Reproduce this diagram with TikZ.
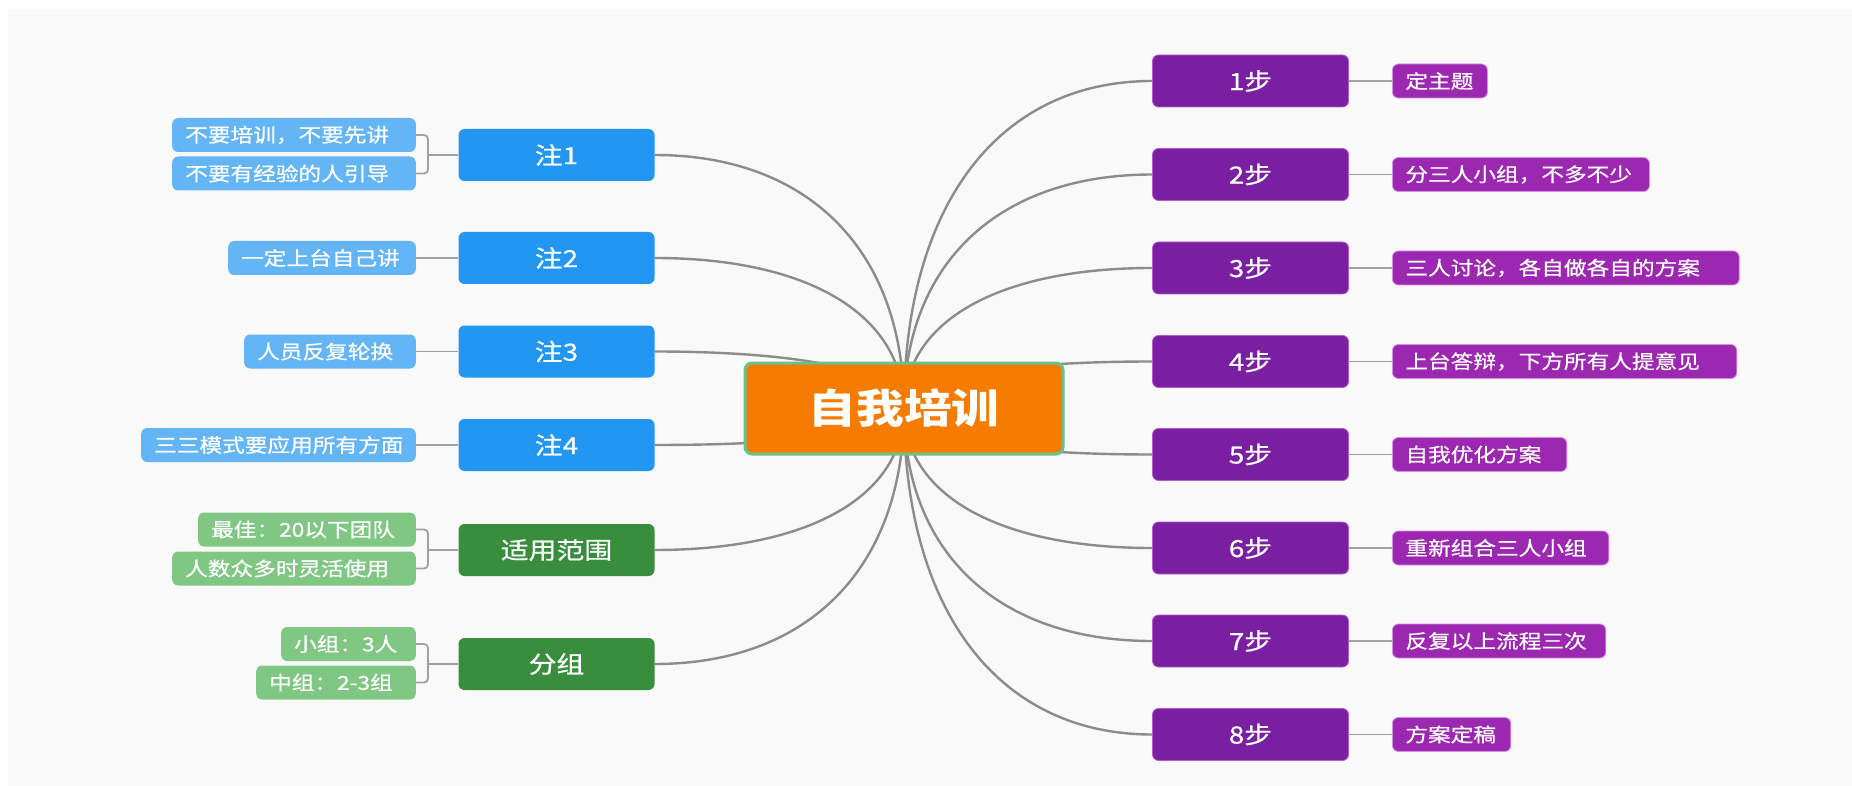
\documentclass[tikz,border=0pt]{standalone}
\usepackage{fontspec}
\setmainfont{Noto Sans CJK SC}[FakeStretch=1.18, UprightFeatures={FakeBold=0.6}]
\usetikzlibrary{calc}
\definecolor{bgc}{HTML}{F9F9F9}
\definecolor{blueM}{HTML}{2196F3}
\definecolor{blueL}{HTML}{64B5F6}
\definecolor{greenM}{HTML}{388E3C}
\definecolor{greenL}{HTML}{81C784}
\definecolor{purpM}{HTML}{7B1FA2}
\definecolor{purpL}{HTML}{9C27B0}
\definecolor{purpMB}{HTML}{B45BCB}
\definecolor{purpLB}{HTML}{D68FE6}
\definecolor{orangeC}{HTML}{F57C00}
\definecolor{greenB}{HTML}{6CC08B}
\definecolor{lineC}{HTML}{8C8C8C}
\definecolor{leafC}{HTML}{A0A0A0}
\pgfdeclarelayer{bglayer}
\pgfdeclarelayer{linelayer}
\pgfsetlayers{bglayer,linelayer,main}
\newcommand\lbx[2]{\makebox[#1pt][l]{#2}}
\tikzset{
  mainbox/.style={rectangle, rounded corners=6pt, text=white, minimum width=196pt, minimum height=52pt, inner sep=0pt, font=\fontsize{23.6}{28}\selectfont},
  leafbox/.style={rectangle, rounded corners=6pt, text=white, minimum height=34pt, inner xsep=13pt, inner ysep=0pt, font=\fontsize{19.2}{23}\selectfont},
  bluem/.style={mainbox, fill=blueM},
  greenm/.style={mainbox, fill=greenM},
  purpm/.style={mainbox, fill=purpM, draw=purpMB, line width=0.8pt},
  bluel/.style={leafbox, fill=blueL, anchor=east},
  greenl/.style={leafbox, fill=greenL, anchor=east},
  purpl/.style={leafbox, fill=purpL, draw=purpLB, line width=0.8pt, anchor=west},
  mainline/.style={draw=lineC, line width=2.4pt},
  leafline/.style={draw=leafC, line width=1.8pt},
}
\begin{document}
\begin{tikzpicture}[x=1pt,y=-1pt]
\useasboundingbox (0,0) rectangle (1852,786);
\begin{pgfonlayer}{bglayer}
\fill[white] (0,0) rectangle (1852,786);
\fill[bgc] (8,9) rectangle (1852,785);
\end{pgfonlayer}

% central
\node[rectangle, rounded corners=7pt, fill=orangeC, draw=greenB, line width=3pt,
      minimum width=318pt, minimum height=91pt, inner sep=0pt, text=white,
      font=\fontsize{40.4}{46}\selectfont\bfseries] (c) at (904,408.5) {自我培训};

% left main
\node[bluem]  (z1) at (556.5,155)   {注1};
\node[bluem]  (z2) at (556.5,258)   {注2};
\node[bluem]  (z3) at (556.5,351.5) {注3};
\node[bluem]  (z4) at (556.5,445)   {注4};
\node[greenm] (z5) at (556.5,550)   {适用范围};
\node[greenm] (z6) at (556.5,664)   {分组};

% left leaves
\node[bluel]  (l1a) at (416,135)   {\lbx{217.6}{不要培训，不要先讲}};
\node[bluel]  (l1b) at (416,173.5) {\lbx{217.6}{不要有经验的人引导}};
\node[bluel]  (l2)  at (416,258)   {\lbx{161.6}{一定上台自己讲}};
\node[bluel]  (l3)  at (416,351.5) {\lbx{145.6}{人员反复轮换}};
\node[bluel]  (l4)  at (416,445)   {\lbx{248.6}{三三模式要应用所有方面}};
\node[greenl] (l5a) at (416,529.5) {\lbx{191.6}{最佳：20以下团队}};
\node[greenl] (l5b) at (416,568.5) {\lbx{217.6}{人数众多时灵活使用}};
\node[greenl] (l6a) at (416,644)   {\lbx{108.6}{小组：3人}};
\node[greenl] (l6b) at (416,682.5) {\lbx{133.6}{中组：2-3组}};

% right main
\node[purpm] (s1) at (1250.5,81)    {1步};
\node[purpm] (s2) at (1250.5,174.5) {2步};
\node[purpm] (s3) at (1250.5,268)   {3步};
\node[purpm] (s4) at (1250.5,361.5) {4步};
\node[purpm] (s5) at (1250.5,454.5) {5步};
\node[purpm] (s6) at (1250.5,548)   {6步};
\node[purpm] (s7) at (1250.5,641)   {7步};
\node[purpm] (s8) at (1250.5,734.5) {8步};

% right leaves
\node[purpl] (r1) at (1392,81)    {\lbx{69}{定主题}};
\node[purpl] (r2) at (1392,174.5) {\lbx{231}{分三人小组，不多不少}};
\node[purpl] (r3) at (1392,268)   {\lbx{320.8}{三人讨论，各自做各自的方案}};
\node[purpl] (r4) at (1392,361.5) {\lbx{318.4}{上台答辩，下方所有人提意见}};
\node[purpl] (r5) at (1392,454.5) {\lbx{148.4}{自我优化方案}};
\node[purpl] (r6) at (1392,548)   {\lbx{190.4}{重新组合三人小组}};
\node[purpl] (r7) at (1392,641)   {\lbx{187.4}{反复以上流程三次}};
\node[purpl] (r8) at (1392,734.5) {\lbx{92.4}{方案定稿}};

\coordinate (b1) at ([xshift=12pt]l1a.east);
\coordinate (b5) at ([xshift=12pt]l5a.east);
\coordinate (b6) at ([xshift=12pt]l6a.east);

\begin{pgfonlayer}{linelayer}
\foreach \n in {z1,z2,z3,z4,z5,z6}
  \draw[mainline] (c.center) .. controls ($(c.center)!0.62!(c.center|-\n.east)$) and ($(\n.east)!0.62!(c.center|-\n.east)$) .. (\n.east);
\foreach \n in {s1,s2,s3,s4,s5,s6,s7,s8}
  \draw[mainline] (c.center) .. controls ($(c.center)!0.62!(c.center|-\n.west)$) and ($(\n.west)!0.62!(c.center|-\n.west)$) .. (\n.west);
% single leaves
\draw[leafline] (z2.west) -- (l2.east);
\draw[leafline] (z3.west) -- (l3.east);
\draw[leafline] (z4.west) -- (l4.east);
% brackets
\draw[leafline, rounded corners=4pt] (l1a.east) -- (b1) -- (b1 |- l1b.east) -- (l1b.east);
\draw[leafline] (z1.west) -- (z1.west -| b1);
\draw[leafline, rounded corners=4pt] (l5a.east) -- (b5) -- (b5 |- l5b.east) -- (l5b.east);
\draw[leafline] (z5.west) -- (z5.west -| b5);
\draw[leafline, rounded corners=4pt] (l6a.east) -- (b6) -- (b6 |- l6b.east) -- (l6b.east);
\draw[leafline] (z6.west) -- (z6.west -| b6);
% right leaves
\foreach \i in {1,...,8}
  \draw[leafline] (s\i.east) -- (r\i.west);
\end{pgfonlayer}
\end{tikzpicture}
\end{document}
